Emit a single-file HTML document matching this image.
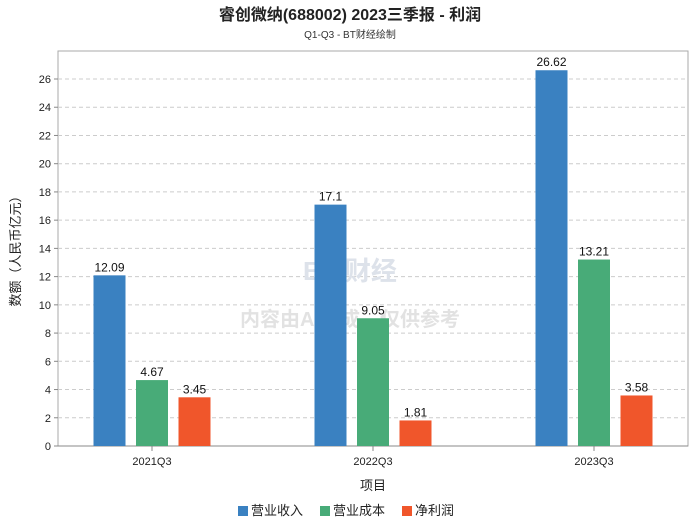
<!DOCTYPE html>
<html><head><meta charset="utf-8"><style>
body{margin:0;background:#fff;font-family:"Liberation Sans","Noto Sans CJK SC",sans-serif;}
</style></head><body>
<svg width="700" height="524" xmlns="http://www.w3.org/2000/svg" style="font-family:'Liberation Sans','Noto Sans CJK SC',sans-serif">
<text x="350" y="20" text-anchor="middle" font-size="16" font-weight="bold" fill="#222">睿创微纳(688002) 2023三季报 - 利润</text>
<text x="350" y="38" text-anchor="middle" font-size="10" fill="#333">Q1-Q3 - BT财经绘制</text>
<rect x="58" y="51" width="630" height="395" fill="#fff" stroke="#aaa"/>
<g id="grid"></g>
<text x="350" y="280" text-anchor="middle" font-size="26" font-weight="bold" fill="#dde2ea">BT 财经</text>
<text x="350" y="326" text-anchor="middle" font-size="20" font-weight="bold" fill="#e2e2e2">内容由AI生成，仅供参考</text>
<g id="bars"></g>
<text x="20" y="248" text-anchor="middle" font-size="13" fill="#222" transform="rotate(-90 20 248)">数额（人民币亿元）</text>
<text x="373" y="490" text-anchor="middle" font-size="13" fill="#222">项目</text>
<g id="legend"></g>
</svg>
<script>
const categories=["2021Q3","2022Q3","2023Q3"];
const seriesNames=["营业收入","营业成本","净利润"];
const revenue=[12.09,17.1,26.62];
const cost=[4.67,9.05,13.21];
const profit=[3.45,1.81,3.58];
const yTicks=[0,2,4,6,8,10,12,14,16,18,20,22,24,26];
const colors=["#3a81c1","#48ab78","#f0562b"];
const NS="http://www.w3.org/2000/svg";
const y0=446,yScale=(446-79)/26;
const y=v=>y0-v*yScale;
const xC=i=>152+i*221;
function mk(tag,attrs,parent,text){const e=document.createElementNS(NS,tag);for(const k in attrs)e.setAttribute(k,attrs[k]);if(text!==undefined)e.textContent=text;parent.appendChild(e);return e;}
const grid=document.getElementById('grid');
yTicks.forEach(t=>{
 const l=mk('line',{x1:58,x2:688,y1:y(t),y2:y(t),stroke:t===0?'#888':'#ccc','stroke-dasharray':t===0?'':'4,3'},grid);
 
 
 mk('line',{x1:54,x2:58,y1:y(t),y2:y(t),stroke:'#888'},grid);
 const tx=mk('text',{x:51,y:y(t)+4,'text-anchor':'end','font-size':11,fill:'#222'},grid,String(t));
 
 
});
const bars=document.getElementById('bars');
const series=[revenue,cost,profit];
categories.forEach((c,i)=>{
 series.forEach((s,j)=>{
  const cx=xC(i)+(j-1)*42.5;
  const r=mk('rect',{x:cx-16,y:y(s[i]),width:32,height:s[i]*yScale,fill:colors[j]},bars);
  
  
  const t=mk('text',{x:cx,y:y(s[i])-4,'text-anchor':'middle','font-size':12,fill:'#111'},bars,String(s[i]));
  
  
 });
 mk('line',{x1:xC(i),x2:xC(i),y1:446,y2:451,stroke:'#888'},bars);
 const xl=mk('text',{x:xC(i),y:465,'text-anchor':'middle','font-size':11,fill:'#222'},bars,c);
 
 
});
const lg=document.getElementById('legend');
const lx=[238,320,402];
seriesNames.forEach((n,j)=>{
 const g=mk('g',{},lg);
 
 
 mk('rect',{x:lx[j],y:506,width:10,height:10,fill:colors[j]},g);
 mk('text',{x:lx[j]+13,y:515,'font-size':13,fill:'#222'},g,n);
});
</script>
</body></html>
